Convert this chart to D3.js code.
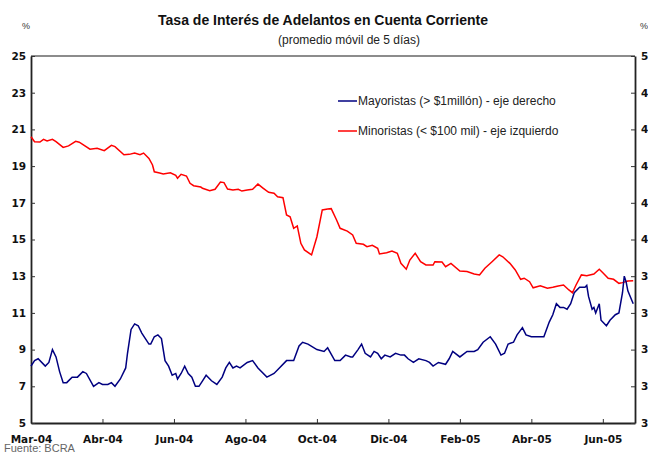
<!DOCTYPE html>
<html lang="es">
<head>
<meta charset="UTF-8">
<title>Tasa de Interés de Adelantos</title>
<script src="https://d3js.org/d3.v7.min.js"></script>
<style>
    * { margin: 0; padding: 0; box-sizing: border-box; }
    body { background: #fff; font-family: "Liberation Sans", Arial, sans-serif; }
    .tick text { font-family: "DejaVu Sans", sans-serif; font-weight: bold; font-size: 10.5px; fill: #111; }
</style>
</head>
<body>
<div id="chart"></div>
<script>
// dia = número de rueda (día hábil) desde el inicio de la serie
const diasMin = [0,2,5,7,9,12,14,18,21,25,27,33,37,41,45,47,52,55,58,61,63,66,68,69,72,74,78,81,82,84,87,89,91,95,96,100,103,106,108,110,113,116,118,121,124,127,130,133,136,138,141,143,145,147,149,151,153,157,160,163,166,168,171,173,177,180,182,186,188,191,194,195,199,202,205,207,210,212,215,218,221,225,226,230,232,235,240,244,248,251,254,258,262,264,268,271,274,276,279,281,285,289,292,295,298,301,303,305,308,311,315,318,320,323,326,329,331,334,337];
const minoristas = [20.60,20.33,20.31,20.46,20.37,20.46,20.33,20.02,20.10,20.35,20.30,19.92,19.97,19.84,20.13,20.06,19.62,19.64,19.71,19.62,19.71,19.42,19.06,18.69,18.62,18.57,18.64,18.50,18.34,18.55,18.46,18.06,17.93,17.86,17.79,17.66,17.74,18.13,18.10,17.75,17.70,17.74,17.64,17.70,17.74,18.02,17.79,17.57,17.52,17.33,17.28,16.34,16.24,15.61,15.74,14.79,14.43,14.16,15.15,16.61,16.66,16.68,16.06,15.61,15.46,15.25,14.79,14.74,14.61,14.68,14.52,14.21,14.28,14.37,14.25,13.70,13.38,13.88,14.25,13.79,13.61,13.61,13.79,13.77,13.52,13.70,13.28,13.25,13.12,13.07,13.43,13.79,14.16,14.06,13.70,13.34,12.83,12.89,12.70,12.37,12.48,12.34,12.40,12.47,12.52,12.25,12.10,12.52,13.07,13.03,13.12,13.38,13.19,12.89,12.83,12.61,12.65,12.74,12.75];

const diasMay = [0,2,4,8,10,12,14,16,18,20,23,26,29,31,35,38,40,43,45,47,50,53,54,56,58,60,62,64,66,67,69,71,73,75,77,79,81,82,84,86,88,90,92,94,96,98,101,104,107,109,111,113,115,117,121,124,127,132,136,139,143,147,150,152,155,160,164,166,170,173,176,179,180,183,185,187,190,192,194,196,198,201,204,207,209,211,214,217,221,223,225,228,232,234,236,240,244,248,250,253,257,260,263,265,267,270,272,275,277,280,285,287,290,292,294,296,298,300,302,304,307,310,311,312,314,315,316,318,319,322,324,327,329,331,332,333,334,337];
const mayoristas = [3.31,3.34,3.35,3.31,3.33,3.40,3.36,3.28,3.22,3.22,3.25,3.25,3.28,3.27,3.20,3.22,3.21,3.21,3.22,3.20,3.24,3.30,3.38,3.51,3.54,3.53,3.49,3.46,3.43,3.43,3.47,3.48,3.46,3.34,3.31,3.26,3.27,3.24,3.27,3.31,3.27,3.25,3.20,3.20,3.23,3.26,3.23,3.21,3.25,3.30,3.33,3.30,3.31,3.30,3.33,3.34,3.30,3.25,3.27,3.30,3.34,3.34,3.42,3.44,3.43,3.40,3.39,3.41,3.34,3.34,3.37,3.36,3.36,3.40,3.43,3.38,3.36,3.39,3.38,3.35,3.37,3.36,3.38,3.37,3.37,3.35,3.33,3.35,3.34,3.33,3.31,3.33,3.32,3.35,3.39,3.36,3.39,3.39,3.40,3.44,3.47,3.43,3.37,3.38,3.43,3.44,3.48,3.52,3.48,3.47,3.47,3.47,3.55,3.59,3.65,3.63,3.63,3.62,3.65,3.71,3.74,3.74,3.75,3.69,3.62,3.63,3.60,3.65,3.56,3.53,3.56,3.59,3.60,3.71,3.80,3.77,3.72,3.65];

const tickDias = [0,40,80,120,160,200,240,280,320];
const tickMeses = ["Mar-04","Abr-04","Jun-04","Ago-04","Oct-04","Dic-04","Feb-05","Abr-05","Jun-05"];
const ticksIzq = [5,7,9,11,13,15,17,19,21,23,25];
const ticksDer = [3.0,3.2,3.4,3.6,3.8,4.0,4.2,4.4,4.6,4.8,5.0];

const W = 648, H = 453;
const plot = { left: 31, right: 635, top: 56, bottom: 423 };

const svg = d3.select("#chart").append("svg")
    .attr("width", W)
    .attr("height", H);

const x = d3.scaleLinear().domain([0, 338]).range([plot.left, plot.right]);
const yIzq = d3.scaleLinear().domain([5, 25]).range([plot.bottom, plot.top]);
const yDer = d3.scaleLinear().domain([3, 5]).range([plot.bottom, plot.top]);

// titulos
svg.append("text")
    .attr("x", 323).attr("y", 25)
    .attr("text-anchor", "middle")
    .style("font-size", "14px").style("font-weight", "bold").style("fill", "#111")
    .text("Tasa de Interés de Adelantos en Cuenta Corriente");
svg.append("text")
    .attr("x", 349).attr("y", 44)
    .attr("text-anchor", "middle")
    .style("font-size", "12px").style("fill", "#222")
    .text("(promedio móvil de 5 días)");
svg.append("text").attr("x", 22).attr("y", 29)
    .style("font-size", "9px").style("fill", "#333").text("%");
svg.append("text").attr("x", 640).attr("y", 29)
    .style("font-size", "9px").style("fill", "#333").text("%");

// marco superior
svg.append("line")
    .attr("x1", plot.left).attr("x2", plot.right)
    .attr("y1", plot.top).attr("y2", plot.top)
    .attr("stroke", "#666").attr("stroke-width", 1.5);

const ejeX = svg.append("g")
    .attr("transform", `translate(0,${plot.bottom})`)
    .call(d3.axisBottom(x).tickValues(tickDias)
        .tickFormat((d, i) => tickMeses[i])
        .tickSizeInner(-4).tickSizeOuter(0).tickPadding(13));

const ejeIzq = svg.append("g")
    .attr("transform", `translate(${plot.left},0)`)
    .call(d3.axisLeft(yIzq).tickValues(ticksIzq)
        .tickSizeInner(-4).tickSizeOuter(0).tickPadding(5));

const ejeDer = svg.append("g")
    .attr("transform", `translate(${plot.right},0)`)
    .call(d3.axisRight(yDer).tickValues(ticksDer)
        .tickFormat(d => d.toFixed(1).replace(".", ","))
        .tickSizeInner(-4).tickSizeOuter(0).tickPadding(6));

[ejeX, ejeIzq, ejeDer].forEach(g => {
    g.select(".domain").attr("stroke", "#222").attr("stroke-width", 1.8);
    g.selectAll(".tick line").attr("stroke", "#333");
});
ejeX.selectAll(".tick").filter(d => d === 0).select("line").remove();

// series
const lineaMin = d3.line()
    .x((d, i) => x(diasMin[i]))
    .y(d => yIzq(d));
const lineaMay = d3.line()
    .x((d, i) => x(diasMay[i]))
    .y(d => yDer(d));

svg.append("path")
    .datum(minoristas)
    .attr("fill", "none")
    .attr("stroke", "#ff0000")
    .attr("stroke-width", 1.5)
    .attr("d", lineaMin);

svg.append("path")
    .datum(mayoristas)
    .attr("fill", "none")
    .attr("stroke", "#000080")
    .attr("stroke-width", 1.5)
    .attr("d", lineaMay);

// leyenda
const leyenda = [
    { nombre: "Mayoristas (> $1millón) - eje derecho", color: "#000080" },
    { nombre: "Minoristas (< $100 mil) - eje izquierdo", color: "#ff0000" }
];
leyenda.forEach((s, i) => {
    const g = svg.append("g").attr("transform", `translate(338, ${101 + i * 30})`);
    g.append("line").attr("x1", 0).attr("x2", 19).attr("y1", 0).attr("y2", 0)
        .attr("stroke", s.color).attr("stroke-width", 1.5);
    g.append("text").attr("x", 20).attr("y", 4)
        .style("font-size", "12px").style("fill", "#222")
        .text(s.nombre);
});

svg.append("text").attr("x", 4).attr("y", 452)
    .style("font-size", "11px").style("fill", "#666")
    .text("Fuente: BCRA");
</script>
</body>
</html>
